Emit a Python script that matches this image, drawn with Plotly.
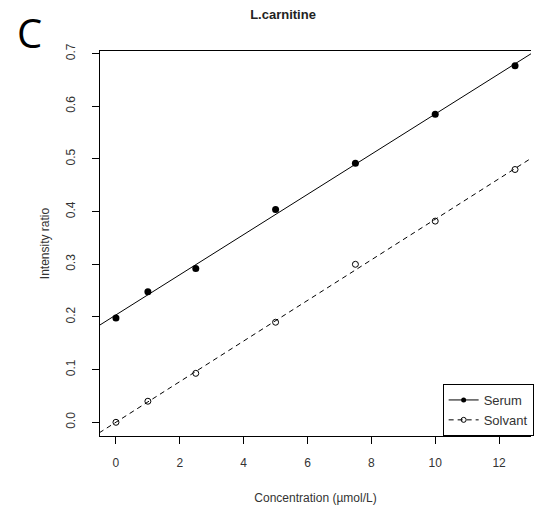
import numpy as np
import plotly.graph_objects as go

conc = [0, 1, 2.5, 5, 7.5, 10, 12.5]
serum = [0.198, 0.248, 0.292, 0.404, 0.492, 0.585, 0.677]
solvant = [0.0, 0.040, 0.093, 0.190, 0.300, 0.382, 0.480]
x_ticks = [0, 2, 4, 6, 8, 10, 12]
y_ticks = [0.0, 0.1, 0.2, 0.3, 0.4, 0.5, 0.6, 0.7]

XR = [-0.5, 13.0]
YR = [-0.026, 0.705]

fig = go.Figure()

# regression lines across the full x range
xl = np.array([-1.0, 14.0])
for ys, dash in [(serum, "solid"), (solvant, "5px,4px")]:
    b, a = np.polyfit(conc, ys, 1)
    fig.add_trace(go.Scatter(x=xl, y=a + b * xl, mode="lines",
                             line=dict(color="black", width=1, dash=dash),
                             showlegend=False, hoverinfo="skip"))

fig.add_trace(go.Scatter(x=conc, y=serum, mode="markers",
                         marker=dict(symbol="circle", size=7, color="black"),
                         showlegend=False))
fig.add_trace(go.Scatter(x=conc, y=solvant, mode="markers",
                         marker=dict(symbol="circle-open", size=6, color="black",
                                     line=dict(width=1)),
                         showlegend=False))

# legend entries
fig.add_trace(go.Scatter(x=[None], y=[None], mode="lines+markers", name="Serum",
                         line=dict(color="black", width=1),
                         marker=dict(symbol="circle", size=5, color="black")))
fig.add_trace(go.Scatter(x=[None], y=[None], mode="lines+markers", name="Solvant",
                         line=dict(color="black", width=1, dash="5px,4px"),
                         marker=dict(symbol="circle-open", size=5, color="black")))

fig.update_layout(
    width=534, height=507,
    margin=dict(l=100, r=0, t=51, b=71),
    paper_bgcolor="white", plot_bgcolor="white",
    font=dict(family="Liberation Sans, Arial", size=12, color="#333"),
    title=dict(text="<b>L.carnitine</b>", x=0.53, xanchor="center", y=0.972,
               yanchor="middle", font=dict(size=13, color="#222")),
    legend=dict(x=0.795, y=0, xanchor="left", yanchor="bottom",
                bordercolor="black", borderwidth=1, bgcolor="white",
                font=dict(size=13, color="#333"), tracegroupgap=0,
                itemwidth=30),
)
fig.add_annotation(text="C", xref="paper", yref="paper", x=-0.164, y=1.047,
                   xanchor="center", yanchor="middle", showarrow=False,
                   font=dict(family="Open Sans, Noto Sans", size=40, color="black"))

fig.update_xaxes(range=XR, tickvals=x_ticks, ticktext=[str(v) for v in x_ticks],
                 showgrid=False, zeroline=False, showline=True, linecolor="black",
                 linewidth=1, mirror=True, ticks="outside", ticklen=7,
                 tickcolor="black", ticklabelstandoff=9,
                 tickfont=dict(size=12, color="#333"),
                 title=dict(text="Concentration (µmol/L)", standoff=24,
                            font=dict(size=12, color="#333")))
fig.update_yaxes(range=YR, tickvals=y_ticks, ticktext=[f"{v:.1f}" for v in y_ticks],
                 showgrid=False, zeroline=False, showline=True, linecolor="black",
                 linewidth=1, mirror=False, ticks="outside", ticklen=7,
                 tickcolor="black", tickangle=-90, ticklabelstandoff=12,
                 tickfont=dict(size=12, color="#333"),
                 title=dict(text="Intensity ratio", standoff=12,
                            font=dict(size=12, color="#333")))

fig.write_html("out.html", config={"displayModeBar": False},
               post_script="document.body.style.margin='0';"
                           "document.body.style.overflow='hidden';")
